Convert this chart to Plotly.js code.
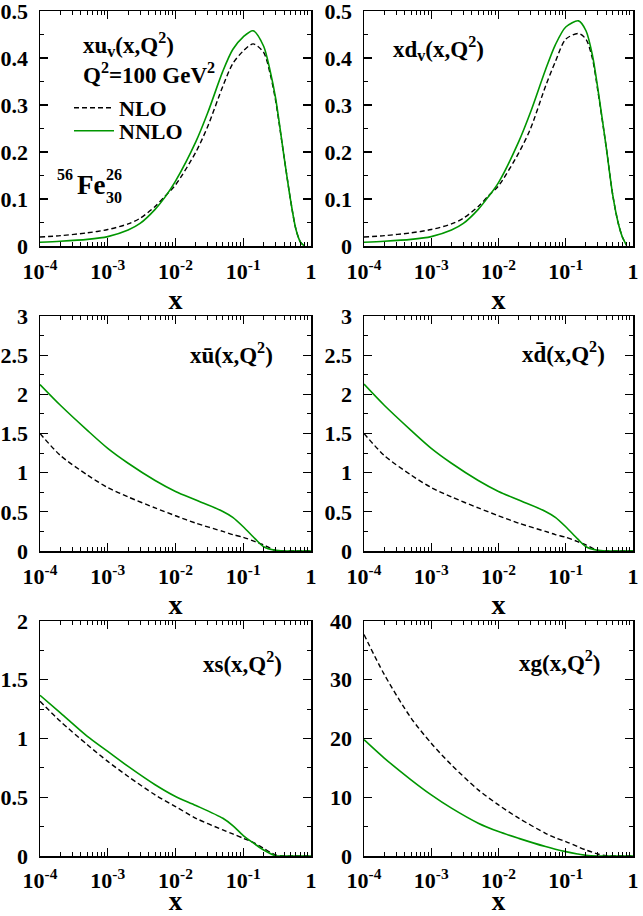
<!DOCTYPE html>
<html>
<head>
<meta charset="utf-8">
<script src="https://cdn.plot.ly/plotly-3.0.1.min.js"></script>
<style>
html,body{margin:0;padding:0;background:#fff;}
#chart{width:643px;height:916px;}
</style>
</head>
<body>
<div id="chart"></div>
<script>
// ---- data ----
const xValence = [1e-4, 2e-4, 5e-4, 1e-3, 2e-3, 3e-3, 5e-3, 7e-3, 1e-2, 2e-2, 3e-2, 5e-2, 7e-2, 0.1, 0.14, 0.2, 0.25, 0.3, 0.4, 0.5, 0.6, 0.7, 0.8];
const uvNLO  = [0.019, 0.022, 0.028, 0.035, 0.047, 0.059, 0.084, 0.106, 0.130, 0.200, 0.255, 0.340, 0.388, 0.415, 0.430, 0.412, 0.366, 0.310, 0.190, 0.097, 0.035, 0.008, 0.0];
const uvNNLO = [0.008, 0.010, 0.014, 0.020, 0.034, 0.048, 0.078, 0.104, 0.138, 0.222, 0.284, 0.372, 0.418, 0.445, 0.458, 0.425, 0.372, 0.315, 0.190, 0.097, 0.035, 0.008, 0.0];
const xValenceD = [1e-4, 2e-4, 5e-4, 1e-3, 2e-3, 3e-3, 5e-3, 7e-3, 1e-2, 2e-2, 3e-2, 5e-2, 7e-2, 0.1, 0.155, 0.2, 0.25, 0.3, 0.4, 0.5, 0.6, 0.7, 0.8];
const dvNLO  = [0.019, 0.022, 0.028, 0.035, 0.047, 0.059, 0.084, 0.106, 0.128, 0.198, 0.250, 0.340, 0.392, 0.440, 0.452, 0.440, 0.398, 0.330, 0.210, 0.108, 0.050, 0.018, 0.002];
const dvNNLO = [0.008, 0.010, 0.014, 0.020, 0.034, 0.048, 0.078, 0.104, 0.135, 0.222, 0.285, 0.375, 0.428, 0.466, 0.479, 0.458, 0.405, 0.335, 0.210, 0.108, 0.050, 0.018, 0.002];

const xSea = [1e-4, 2e-4, 5e-4, 1e-3, 2e-3, 5e-3, 1e-2, 2e-2, 5e-2, 7e-2, 0.1, 0.15, 0.2, 0.3, 0.4, 0.6, 1.0];
const ubarNLO  = [1.50, 1.22, 0.97, 0.81, 0.69, 0.55, 0.45, 0.355, 0.25, 0.21, 0.175, 0.12, 0.077, 0.006, 0, 0, 0];
const ubarNNLO = [2.125, 1.86, 1.54, 1.31, 1.12, 0.90, 0.76, 0.65, 0.505, 0.43, 0.31, 0.155, 0.055, 0.008, 0, 0, 0];
const dbarNLO  = [1.50, 1.22, 0.97, 0.81, 0.69, 0.55, 0.45, 0.355, 0.25, 0.21, 0.175, 0.12, 0.077, 0.006, 0, 0, 0];
const dbarNNLO = [2.13, 1.86, 1.54, 1.31, 1.12, 0.90, 0.76, 0.65, 0.505, 0.43, 0.31, 0.155, 0.055, 0.008, 0, 0, 0];
const sNLO  = [1.317, 1.146, 0.947, 0.805, 0.677, 0.52, 0.421, 0.321, 0.222, 0.188, 0.151, 0.108, 0.065, 0.009, 0, 0, 0];
const sNNLO = [1.368, 1.218, 1.018, 0.89, 0.762, 0.606, 0.506, 0.43, 0.321, 0.259, 0.174, 0.10, 0.051, 0.002, 0, 0, 0];
const gNLO  = [37.7, 30.9, 23.5, 19.2, 15.5, 11.26, 8.7, 6.43, 3.87, 3.1, 2.45, 1.6, 1.02, 0.34, 0.05, 0, 0];
const gNNLO = [19.8, 16.67, 12.97, 10.4, 8.14, 5.58, 4.15, 3.0, 1.6, 1.15, 0.74, 0.34, 0.11, 0.0, 0, 0, 0];

const xTickVals = [1e-4, 1e-3, 1e-2, 1e-1, 1];
const xTickText = ['10<sup>-4</sup>', '10<sup>-3</sup>', '10<sup>-2</sup>', '10<sup>-1</sup>', '1'];
const yTicksValence = [0, 0.1, 0.2, 0.3, 0.4, 0.5];
const yTicksSea = [0, 0.5, 1, 1.5, 2, 2.5, 3];
const yTicksStrange = [0, 0.5, 1, 1.5, 2];
const yTicksGluon = [0, 10, 20, 30, 40];
const seriesNames = ['NLO', 'NNLO'];

// ---- styling ----
const FONT = 'Liberation Serif, Times New Roman, serif';
const GREEN = 'rgb(0,150,0)';
const minorX = [];
[1e-4, 1e-3, 1e-2, 1e-1].forEach(d => { for (let k = 2; k <= 9; k++) minorX.push(d * k); });

const panels = [
  {x: xValence,  nlo: uvNLO,   nnlo: uvNNLO},
  {x: xValenceD, nlo: dvNLO,   nnlo: dvNNLO},
  {x: xSea,      nlo: ubarNLO, nnlo: ubarNNLO},
  {x: xSea,      nlo: dbarNLO, nnlo: dbarNNLO},
  {x: xSea,      nlo: sNLO,    nnlo: sNNLO},
  {x: xSea,      nlo: gNLO,    nnlo: gNNLO}
];
const yCfg = [
  {range: [0, 0.5], ticks: yTicksValence, minor: 0.05},
  {range: [0, 0.5], ticks: yTicksValence, minor: 0.05},
  {range: [0, 3], ticks: yTicksSea, minor: 0.25},
  {range: [0, 3], ticks: yTicksSea, minor: 0.25},
  {range: [0, 2], ticks: yTicksStrange, minor: 0.25},
  {range: [0, 40], ticks: yTicksGluon, minor: 5}
];
const W = 643, H = 916;
const cols = [[40, 311], [364, 633]];
const rows = [[11, 246], [316, 551], [621, 856]];

const legendFont = {family: FONT, size: 22, weight: 'bold', color: '#000'};
const data = [];
const layout = {
  width: W, height: H,
  margin: {l: 0, r: 0, t: 0, b: 0},
  paper_bgcolor: '#fff', plot_bgcolor: '#fff',
  font: {family: FONT, color: '#000'},
  showlegend: true,
  legend: {
    x: 69 / W, y: 1 - 87 / H, xanchor: 'left', yanchor: 'top',
    bgcolor: 'rgba(0,0,0,0)', borderwidth: 0, font: legendFont, itemwidth: 40
  },
  legend2: {
    x: 69 / W, y: 1 - 110 / H, xanchor: 'left', yanchor: 'top',
    bgcolor: 'rgba(0,0,0,0)', borderwidth: 0, font: legendFont, itemwidth: 40
  },
  annotations: []
};

panels.forEach((p, i) => {
  const n = i + 1;
  const xa = 'x' + (n === 1 ? '' : n), ya = 'y' + (n === 1 ? '' : n);
  const bottomRow = i >= 4;
  data.push({
    x: p.x, y: p.nlo, xaxis: xa, yaxis: ya, type: 'scatter', mode: 'lines',
    name: seriesNames[0], showlegend: i === 0, legend: 'legend',
    line: {color: '#000', width: 1.4, dash: '5px,3px', shape: 'spline', smoothing: 0.8}
  });
  data.push({
    x: p.x, y: p.nnlo, xaxis: xa, yaxis: ya, type: 'scatter', mode: 'lines',
    name: seriesNames[1], showlegend: i === 0, legend: 'legend2',
    line: {color: GREEN, width: 1.6, shape: 'spline', smoothing: 0.8}
  });
  const c = cols[i % 2], r = rows[Math.floor(i / 2)];
  const yc = yCfg[i];
  layout['xaxis' + (n === 1 ? '' : n)] = {
    type: 'log', range: [-4, 0], domain: [c[0] / W, c[1] / W], anchor: ya,
    showline: true, linecolor: '#000', linewidth: 1.5, mirror: 'allticks',
    ticks: 'inside', ticklen: 8, tickwidth: 1.3, tickcolor: '#000',
    tickmode: 'array', tickvals: xTickVals, ticktext: xTickText,
    tickfont: {family: FONT, size: 22, weight: 'bold', color: '#000'},
    ticklabelstandoff: bottomRow ? 4 : 5, ticklabeloverflow: 'allow',
    minor: {tickmode: 'array', tickvals: minorX, ticks: 'inside', ticklen: 4, tickwidth: 1, tickcolor: '#000', showgrid: false},
    showgrid: false, zeroline: false, fixedrange: true,
    title: {text: 'x', font: {family: FONT, size: bottomRow ? 27 : 28, weight: 'bold', color: '#000'}, standoff: 1}
  };
  layout['yaxis' + (n === 1 ? '' : n)] = {
    range: yc.range, domain: [1 - r[1] / H, 1 - r[0] / H], anchor: xa,
    showline: true, linecolor: '#000', linewidth: 1.5, mirror: 'allticks',
    ticks: 'inside', ticklen: 8, tickwidth: 1.3, tickcolor: '#000',
    tickmode: 'array', tickvals: yc.ticks,
    tickfont: {family: FONT, size: 22, weight: 'bold', color: '#000'},
    ticklabelstandoff: 6, ticklabeloverflow: 'allow',
    minor: {tick0: 0, dtick: yc.minor, ticks: 'inside', ticklen: 4, tickwidth: 1, tickcolor: '#000', showgrid: false},
    showgrid: false, zeroline: false, fixedrange: true
  };
});

function ann(text, px, py, size, xanchor) {
  layout.annotations.push({
    text: text, xref: 'paper', yref: 'paper', x: px / W, y: 1 - py / H,
    xanchor: xanchor || 'left', yanchor: 'middle', showarrow: false,
    font: {family: FONT, size: size, weight: 'bold', color: '#000'}
  });
}
ann('xu<sub>v</sub>(x,Q<sup>2</sup>)', 81, 45, 23);
ann('Q<sup>2</sup>=100 GeV<sup>2</sup>', 81, 73, 23);
ann('56', 75, 174, 16, 'right');
ann('Fe', 91, 185, 27, 'center');
ann('26', 104, 174, 16);
ann('30', 104, 197, 16);
ann('xd<sub>v</sub>(x,Q<sup>2</sup>)', 391, 49, 23);
ann('xu\u0304(x,Q<sup>2</sup>)', 188, 354, 23);
ann('xd\u0304(x,Q<sup>2</sup>)', 520, 352, 23);
ann('xs(x,Q<sup>2</sup>)', 201, 662, 23);
ann('xg(x,Q<sup>2</sup>)', 517, 661, 23);

Plotly.newPlot('chart', data, layout, {staticPlot: true, displayModeBar: false});
</script>
</body>
</html>
